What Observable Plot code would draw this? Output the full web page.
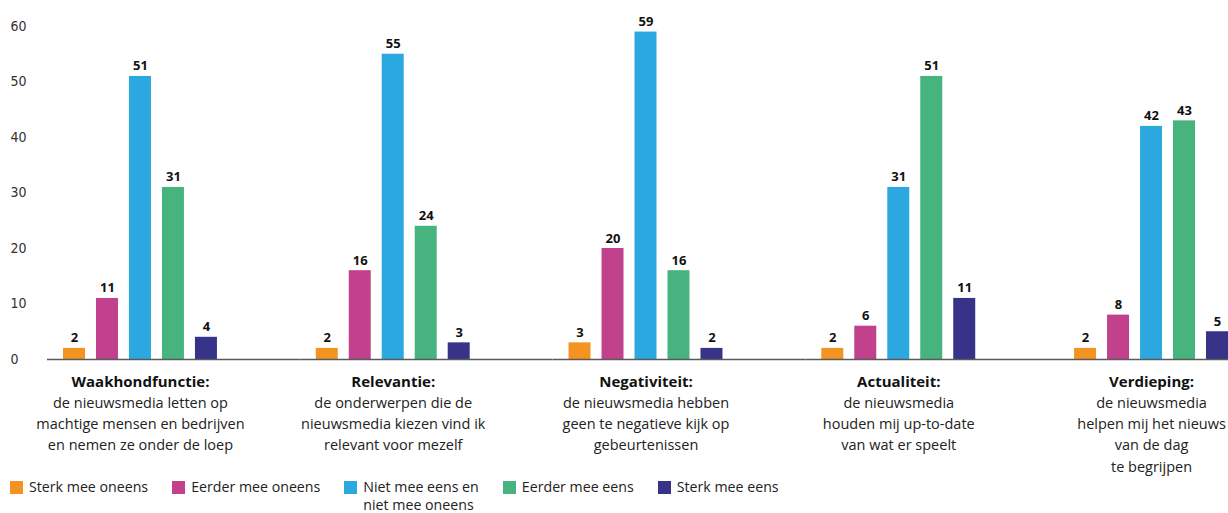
<!DOCTYPE html>
<html>
<head>
<meta charset="utf-8">
<script src="https://cdn.jsdelivr.net/npm/d3@7"></script>
<script src="https://cdn.jsdelivr.net/npm/@observablehq/plot@0.6"></script>
<style>
  html, body { margin: 0; padding: 0; background: #fff; }
  body { width: 1228px; height: 513px; overflow: hidden; font-family: "Open Sans", "Noto Sans", sans-serif; }
  #chart svg { display: block; overflow: hidden; }
  #legend { display: flex; gap: 24px; padding-left: 10px; margin-top: 2px; font-size: 14.2px; line-height: 18px; color: #222; }
  #legend .item { display: flex; align-items: flex-start; }
  #legend .sw { width: 13px; height: 13px; margin-right: 6px; margin-top: 3px; flex: none; }
</style>
</head>
<body>
<div id="chart"></div>
<div id="legend"></div>
<script>
const categories = ["Waakhondfunctie:", "Relevantie:", "Negativiteit:", "Actualiteit:", "Verdieping:"];
const descriptions = [
  "de nieuwsmedia letten op\nmachtige mensen en bedrijven\nen nemen ze onder de loep",
  "de onderwerpen die de\nnieuwsmedia kiezen vind ik\nrelevant voor mezelf",
  "de nieuwsmedia hebben\ngeen te negatieve kijk op\ngebeurtenissen",
  "de nieuwsmedia\nhouden mij up-to-date\nvan wat er speelt",
  "de nieuwsmedia\nhelpen mij het nieuws\nvan de dag\nte begrijpen"
];
const series = ["Sterk mee oneens", "Eerder mee oneens", "Niet mee eens en niet mee oneens", "Eerder mee eens", "Sterk mee eens"];
const legendLabels = ["Sterk mee oneens", "Eerder mee oneens", "Niet mee eens en<br>niet mee oneens", "Eerder mee eens", "Sterk mee eens"];
const sterkOneens = [2, 2, 3, 2, 2];
const eerderOneens = [11, 16, 20, 6, 8];
const neutraal = [51, 55, 59, 31, 42];
const eerderEens = [31, 24, 16, 51, 43];
const sterkEens = [4, 3, 2, 11, 5];
const colors = ["#F39322", "#C1418D", "#2CA8E1", "#47B37F", "#373388"];
const yTicks = [0, 10, 20, 30, 40, 50, 60];

const seriesValues = [sterkOneens, eerderOneens, neutraal, eerderEens, sterkEens];
const data = categories.flatMap((c, i) => series.map((s, j) => ({category: c, series: s, value: seriesValues[j][i]})));
const labels = categories.map((c, i) => ({category: c, desc: descriptions[i]}));

const chart = Plot.plot({
  width: 1228,
  height: 476,
  marginTop: 26,
  marginBottom: 117,
  marginLeft: 63,
  marginRight: 0,
  style: {fontFamily: '"Open Sans", "Noto Sans", sans-serif', color: "#222", background: "#fff"},
  fx: {domain: categories, paddingInner: 0.391, paddingOuter: 0, round: false, axis: null, label: null},
  x: {domain: series, paddingInner: 1 / 3, paddingOuter: 0, round: false, axis: null},
  y: {domain: [0, 60], axis: null},
  color: {domain: series, range: colors},
  marks: [
    Plot.axisY({ticks: yTicks, tickSize: 0, tickPadding: 0, textAnchor: "start", dx: -53, fontSize: 14,
      fontFamily: '"Liberation Sans Narrow", "DejaVu Sans Condensed", "Roboto Condensed", Roboto, sans-serif', fontWeight: 300, fill: "#333", label: null}),
    Plot.barY(data, {fx: "category", x: "series", y: "value", fill: "series"}),
    Plot.ruleY([0], {stroke: "#5a5a5a", strokeWidth: 1.5, insetLeft: -16, insetRight: -82.8}),
    Plot.text(data, {fx: "category", x: "series", y: "value", text: d => String(d.value), lineAnchor: "bottom", dy: -6, fontWeight: "bold", fontSize: 13, fill: "#111"}),
    Plot.text(labels, {fx: "category", text: "category", frameAnchor: "bottom", lineAnchor: "middle", dy: 23, fontWeight: "bold", fontSize: 15, fill: "#111"}),
    Plot.text(labels, {fx: "category", text: "desc", frameAnchor: "bottom", lineAnchor: "top", dy: 34, lineHeight: 1.45, fontSize: 14.5, fill: "#222"})
  ]
});
document.getElementById("chart").appendChild(chart);

const legend = document.getElementById("legend");
series.forEach((s, i) => {
  const item = document.createElement("div");
  item.className = "item";
  item.innerHTML = `<span class="sw" style="background:${colors[i]}"></span><span>${legendLabels[i]}</span>`;
  legend.appendChild(item);
});
</script>
</body>
</html>
